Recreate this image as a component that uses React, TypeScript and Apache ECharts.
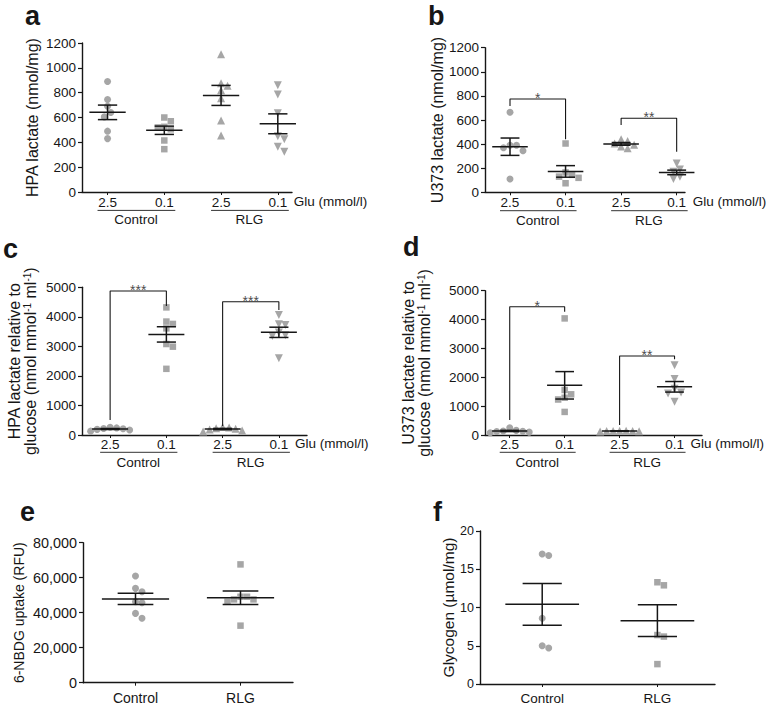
import React, { useEffect, useRef } from 'react';
import * as echarts from 'echarts';

const FONT = '"Liberation Sans", Arial, Helvetica, sans-serif';
const INK = '#161616';
const DOT = '#a6a6a6';

// ---- labels ----
const gluLevels = ['2.5', '0.1', '2.5', '0.1'];
const treatments = ['Control', 'RLG'];
const gluTitle = 'Glu (mmol/l)';
const panelLetters = ['a', 'b', 'c', 'd', 'e', 'f'];

// ---- panel a: HPA lactate (nmol/mg) ----
const aCtl25 = [890, 745, 690, 640, 605, 490, 430];
const aCtl01 = [600, 570, 525, 520, 505, 415, 345];
const aRlg25 = [1110, 875, 855, 820, 755, 575, 455];
const aRlg01 = [860, 785, 635, 450, 425, 365, 325];

// ---- panel b: U373 lactate (nmol/mg) ----
const bCtl25 = [665, 390, 390, 370, 345, 110];
const bCtl01 = [405, 165, 145, 130, 120, 75];
const bRlg25 = [440, 425, 405, 395, 380, 365];
const bRlg01 = [240, 190, 170, 150, 130, 110];

// ---- panel c: HPA lactate relative to glucose ----
const cCtl25 = [260, 240, 220, 210, 190, 170, 130];
const cCtl01 = [4320, 3840, 3760, 3610, 3080, 2990, 2240];
const cRlg25 = [270, 250, 230, 210, 190, 150, 120];
const cRlg01 = [4060, 3750, 3720, 3470, 3380, 3350, 2600];

// ---- panel d: U373 lactate relative to glucose ----
const dCtl25 = [250, 160, 140, 130, 120, 100, 80];
const dCtl01 = [4040, 1560, 1410, 1290, 1230, 800];
const dRlg25 = [150, 145, 140, 140, 135, 130, 125];
const dRlg01 = [2420, 1940, 1600, 1470, 1440, 1150];

// ---- panel e: 6-NBDG uptake (RFU) ----
const eCtl = [61000, 53900, 52000, 46300, 45700, 39600, 36800];
const eRlg = [67600, 49100, 49100, 47600, 47600, 46300, 32600];

// ---- panel f: Glycogen (µmol/mg) ----
const fCtl = [17.0, 16.8, 8.6, 5.0, 4.7];
const fRlg = [13.3, 12.9, 6.4, 6.2, 2.6];

// ---- significance brackets: [fromCat, toCat, top, leftFoot, rightFoot] ----
const bBrackets = [[1, 2, 774, 716, 440], [3, 4, 614, 558, 337]];
const bStars = ['*', '**'];
const cBrackets = [[1, 2, 4875, 508, 4367], [3, 4, 4513, 305, 4232]];
const cStars = ['***', '***'];
const dBrackets = [[1, 2, 4446, 520, 4273], [3, 4, 2737, 346, 2623]];
const dStars = ['*', '**'];

const SYM4 = [
  { symbol: 'circle', size: 7, rotate: 0 },
  { symbol: 'rect', size: 6.5, rotate: 0 },
  { symbol: 'triangle', size: 8, rotate: 0 },
  { symbol: 'triangle', size: 8, rotate: 180 },
];
const SYM2 = SYM4.slice(0, 2);

const supName = (l1: string, l2: string) =>
  `{t|${l1}}\n{t|${l2} (nmol mmol}{s|-1}{t| ml}{s|-1}{t|)}`;

const panels: any[] = [
  {
    grid: { left: 82, top: 43, width: 210, height: 149 }, xMin: 0.55, xMax: 4.25,
    yMax: 1200, step: 200, name: 'HPA lactate (nmol/mg)', nameGap: 42, nameSize: 16,
    tickSize: 13.5, xSize: 13.5, xMargin: 3, groups: [aCtl25, aCtl01, aRlg25, aRlg01],
    cats: gluLevels, syms: SYM4, brackets: [], stars: [], glu: 9.5, under: 18.4, group: 27.7,
    letter: [25, 25],
  },
  {
    grid: { left: 485, top: 47.7, width: 200, height: 144.6 }, xMin: 0.55, xMax: 4.15,
    yMax: 1200, step: 200, name: 'U373 lactate (nmol/mg)', nameGap: 40, nameSize: 16,
    tickSize: 13.5, xSize: 13.5, xMargin: 3, groups: [bCtl25, bCtl01, bRlg25, bRlg01],
    cats: gluLevels, syms: SYM4, brackets: bBrackets, stars: bStars, glu: 9.5, under: 18.4, group: 27.7,
    letter: [428, 25],
  },
  {
    grid: { left: 82, top: 287.3, width: 225, height: 147.7 }, xMin: 0.5, xMax: 4.5,
    yMax: 5000, step: 1000, name: supName('HPA lactate relative to', 'glucose'), rich: true,
    nameGap: 44, nameSize: 16, tickSize: 13.5, xSize: 13.5, xMargin: 2,
    groups: [cCtl25, cCtl01, cRlg25, cRlg01], cats: gluLevels, syms: SYM4,
    brackets: cBrackets, stars: cStars, glu: 8, under: 17.3, group: 27, letter: [3, 258],
  },
  {
    grid: { left: 485, top: 290.7, width: 217, height: 144.3 }, xMin: 0.55, xMax: 4.5,
    yMax: 5000, step: 1000, name: supName('U373 lactate relative to', 'glucose'), rich: true,
    nameGap: 53, nameSize: 16, tickSize: 13.5, xSize: 13.5, xMargin: 2,
    groups: [dCtl25, dCtl01, dRlg25, dRlg01], cats: gluLevels, syms: SYM4,
    brackets: dBrackets, stars: dStars, glu: 8, under: 17.3, group: 27, letter: [403, 256.7],
  },
  {
    grid: { left: 83, top: 542.7, width: 210, height: 140 }, xMin: 0.5, xMax: 2.5,
    yMax: 80000, step: 20000, name: '6-NBDG uptake (RFU)', nameGap: 57, nameSize: 14,
    tickSize: 14.4, xSize: 14, xMargin: 8, groups: [eCtl, eRlg], cats: treatments, syms: SYM2,
    brackets: [], stars: [], comma: true, letter: [20, 521.7],
  },
  {
    grid: { left: 480, top: 531, width: 235, height: 153 }, xMin: 0.46, xMax: 2.5,
    yMax: 20, step: 5, name: 'Glycogen (µmol/mg)', nameGap: 24, nameSize: 15.5,
    tickSize: 12.5, xSize: 13.5, xMargin: 7, groups: [fCtl, fRlg], cats: treatments, syms: SYM2,
    brackets: [], stars: [], letter: [433, 521.7],
  },
];

function mean(a: number[]) {
  return a.reduce((s, v) => s + v, 0) / a.length;
}
function sem(a: number[]) {
  const m = mean(a);
  const v = a.reduce((s, x) => s + (x - m) * (x - m), 0) / (a.length - 1);
  return Math.sqrt(v / a.length);
}

// deterministic beeswarm: spreads points that would overlap horizontally
function swarm(values: number[], center: number, xppu: number, yppu: number, d: number) {
  const placed: { x: number; y: number }[] = [];
  const sorted = [...values].sort((p, q) => q - p);
  return sorted.map((v) => {
    const y = v * yppu;
    let best = 0;
    outer: for (let k = 0; k < 60; k++) {
      const cands = k === 0 ? [0] : [(k * d) / 2, (-k * d) / 2];
      for (const c of cands) {
        if (placed.every((p) => (p.x - c) ** 2 + (p.y - y) ** 2 >= d * d)) {
          best = c;
          break outer;
        }
      }
    }
    placed.push({ x: best, y });
    return [center + best / xppu, v];
  });
}

const comma = (v: number) => String(v).replace(/\B(?=(\d{3})+(?!\d))/g, ',');

function buildOption() {
  const grid: any[] = [];
  const xAxis: any[] = [];
  const yAxis: any[] = [];
  const series: any[] = [];
  const axisLine = { show: true, onZero: false, lineStyle: { color: INK, width: 1.4 } };

  panels.forEach((p, i) => {
    grid.push({ ...p.grid, containLabel: false, outerBoundsMode: 'none' });
    const custom = p.cats.map((_: string, j: number) => j + 1);
    xAxis.push({
      type: 'value', gridIndex: i, min: p.xMin, max: p.xMax,
      axisLine,
      axisTick: { show: true, length: 3, customValues: custom, lineStyle: { color: INK, width: 1 } },
      axisLabel: {
        customValues: custom, margin: p.xMargin, fontSize: p.xSize, fontFamily: FONT, color: INK,
        formatter: (v: number) => p.cats[Math.round(v) - 1] ?? '',
      },
      splitLine: { show: false },
    });
    const nameTextStyle: any = { fontSize: p.nameSize, fontFamily: FONT, color: INK };
    if (p.rich) {
      nameTextStyle.rich = {
        t: { fontSize: p.nameSize, fontFamily: FONT, color: INK, lineHeight: 16 },
        s: { fontSize: 10, fontFamily: FONT, color: INK, verticalAlign: 'top', lineHeight: 10 },
      };
    }
    yAxis.push({
      type: 'value', gridIndex: i, min: 0, max: p.yMax, interval: p.step,
      name: p.name, nameLocation: 'middle', nameRotate: 90, nameGap: p.nameGap, nameTextStyle,
      axisLine,
      axisTick: { show: true, length: 4, lineStyle: { color: INK, width: 1.2 } },
      axisLabel: {
        margin: 6, fontSize: p.tickSize, fontFamily: FONT, color: INK,
        formatter: (v: number) => (p.comma ? comma(v) : String(v)),
      },
      splitLine: { show: false },
    });

    const xppu = p.grid.width / (p.xMax - p.xMin);
    const yppu = p.grid.height / p.yMax;

    p.groups.forEach((g: number[], j: number) => {
      const s = p.syms[j];
      series.push({
        type: 'scatter', xAxisIndex: i, yAxisIndex: i, silent: true, z: 2,
        symbol: s.symbol, symbolSize: s.size, symbolRotate: s.rotate,
        itemStyle: { color: DOT, opacity: 1 },
        data: swarm(g, j + 1, xppu, yppu, 6.5),
      });
    });

    series.push({
      type: 'custom', xAxisIndex: i, yAxisIndex: i, silent: true, z: 4,
      encode: { x: 0, y: 1 },
      data: p.groups.map((g: number[], j: number) => [j + 1, mean(g), sem(g)]),
      renderItem: (_params: any, api: any) => {
        const x = api.value(0), m = api.value(1), s = api.value(2);
        const c = (a: number, b: number) => api.coord([a, b]);
        const st = { stroke: INK, lineWidth: 1.5 };
        const seg = (a: number[], b: number[]) => ({
          type: 'line', shape: { x1: a[0], y1: a[1], x2: b[0], y2: b[1] }, style: st,
        });
        return {
          type: 'group',
          children: [
            seg(c(x - 0.32, m), c(x + 0.32, m)),
            seg(c(x, m - s), c(x, m + s)),
            seg(c(x - 0.17, m + s), c(x + 0.17, m + s)),
            seg(c(x - 0.17, m - s), c(x + 0.17, m - s)),
          ],
        };
      },
    });

    p.brackets.forEach((b: number[], k: number) => {
      series.push({
        type: 'line', xAxisIndex: i, yAxisIndex: i, silent: true, z: 3,
        symbol: 'none', clip: false, lineStyle: { color: INK, width: 1.1 },
        data: [[b[0], b[3]], [b[0], b[2]], [b[1], b[2]], [b[1], b[4]]],
      });
      series.push({
        type: 'scatter', xAxisIndex: i, yAxisIndex: i, silent: true, z: 5,
        symbolSize: 1, itemStyle: { color: 'rgba(0,0,0,0)' },
        label: {
          show: true, position: 'inside', offset: [0, -1], formatter: p.stars[k],
          fontSize: 14, fontFamily: FONT, color: INK,
        },
        data: [[(b[0] + b[1]) / 2, b[2]]],
      });
    });
  });

  return {
    animation: false,
    backgroundColor: '#ffffff',
    grid, xAxis, yAxis, series,
  };
}

export default function App() {
  const ref = useRef<HTMLDivElement>(null);
  useEffect(() => {
    if (!ref.current) return;
    const chart = echarts.init(ref.current, undefined, { renderer: 'svg', width: 767, height: 706 });
    chart.setOption(buildOption() as any);

    const graphic: any[] = [];
    const txt = (text: string, x: number, y: number, size: number, align = 'center', weight = 'normal') => ({
      type: 'text', silent: true,
      style: {
        text, x, y, fill: INK, fontSize: size, fontFamily: FONT, fontWeight: weight,
        textAlign: align, textVerticalAlign: 'middle', align, verticalAlign: 'middle',
      },
    });

    panels.forEach((p, i) => {
      graphic.push(txt(panelLetters[i], p.letter[0], p.letter[1] - 0.35 * 27, 27, 'left', 'bold'));
      if (p.glu === undefined) return;
      const last = chart.convertToPixel({ gridIndex: i } as any, [4, 0]) as number[];
      graphic.push(txt(gluTitle, last[0] + 16, last[1] + p.glu, 13.5, 'left'));
      [[1, 2], [3, 4]].forEach((pair, k) => {
        const a = chart.convertToPixel({ gridIndex: i } as any, [pair[0], 0]) as number[];
        const b = chart.convertToPixel({ gridIndex: i } as any, [pair[1], 0]) as number[];
        graphic.push({
          type: 'line', silent: true,
          shape: { x1: a[0] - 10, y1: a[1] + p.under, x2: b[0] + 11, y2: a[1] + p.under },
          style: { stroke: '#333', lineWidth: 1 },
        });
        graphic.push(txt(treatments[k], (a[0] + b[0]) / 2, a[1] + p.group, 13.5));
      });
    });
    chart.setOption({ graphic });

    return () => chart.dispose();
  }, []);

  return (
    <div
      ref={ref}
      style={{ position: 'absolute', left: 0, top: 0, width: 767, height: 706, background: '#fff' }}
    />
  );
}
